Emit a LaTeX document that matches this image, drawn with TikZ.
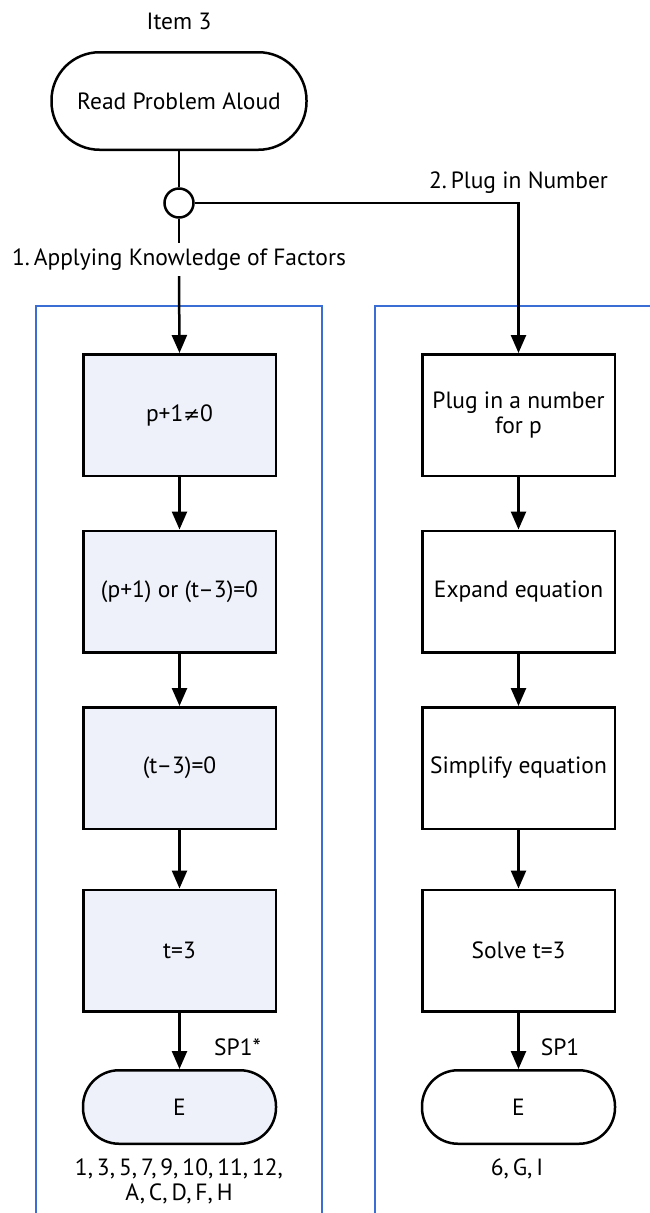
\documentclass[tikz,border=0pt]{standalone}
\usepackage{fontspec}
\setmainfont{PT Sans}
\newfontfamily\symfont{DejaVu Sans}
\usetikzlibrary{arrows.meta}
\definecolor{frameblue}{RGB}{58,110,212}
\definecolor{boxfill}{RGB}{238,241,249}
\begin{document}
\begin{tikzpicture}[x=1pt,y=-1pt,
 every node/.style={font=\fontsize{23.5}{25.5}\selectfont, inner sep=0pt},
 proc/.style={draw, line width=2.5pt, minimum width=192.5pt, minimum height=121.5pt, align=center},
 procf/.style={proc, fill=boxfill},
 term/.style={draw, line width=2.5pt, rounded corners=36pt, minimum width=193pt, minimum height=73.5pt},
 arr/.style={line width=2.5pt, -{Triangle[length=18pt,width=15pt]}},
 ln/.style={line width=2.5pt},
 frm/.style={draw=frameblue, line width=2.7pt},
 lbl/.style={anchor=base}]
\useasboundingbox (0,0) rectangle (649,1213);
% frames
\draw[frm] (36,1220) -- (36,306) -- (322,306) -- (322,1220);
\draw[frm] (375,1220) -- (375,306) -- (660,306);
% top
\node[lbl] (title) at (179,29.3) {Item 3};
\node[draw, line width=2.5pt, rounded corners=48pt, minimum width=255pt, minimum height=97.5pt] (read) at (179,101) {Read Problem Aloud};
\node[draw, circle, line width=2.5pt, minimum size=29pt, fill=white] (circ) at (179,203) {};
\node[lbl, outer ysep=5.5pt] (lab1) at (179,265.7) {1.\,Applying Knowledge of Factors};
\node[lbl] (lab2) at (518.5,188) {2.\,Plug in Number};
% left column
\node[procf] (l1) at (179.5,415) {p+1{\symfont\fontsize{20}{24}\selectfont ≠}0};
\node[procf] (l2) at (179.5,591.5) {(p+1) or (t\textendash3)=0};
\node[procf] (l3) at (179.5,768) {(t\textendash3)=0};
\node[procf] (l4) at (179.5,950.5) {t=3};
\node[term, fill=boxfill] (le) at (179.5,1107) {E};
\node[lbl] (sp1s) at (237.5,1055) {SP1*};
\node[lbl] (lres1) at (179,1175) {1,\,3,\,5,\,7,\,9,\,10,\,11,\,12,};
\node[lbl] (lres2) at (179,1200.7) {A,\,C,\,D,\,F,\,H};
% right column
\node[proc] (r1) at (518.5,415) {Plug in a number\\for p};
\node[proc] (r2) at (518.5,591.5) {Expand equation};
\node[proc] (r3) at (518.5,768) {Simplify equation};
\node[proc] (r4) at (518.5,950.5) {Solve t=3};
\node[term] (re) at (518.5,1107) {E};
\node[lbl] (sp1) at (560,1055) {SP1};
\node[lbl] (rres) at (517,1175) {6,\,G,\,I};
% connectors
\draw[ln] (read.south) -- (circ.north);
\draw[ln] (circ.south) -- (lab1.north);
\draw[arr] (lab1.south) -- (l1.north);
\draw[arr] (circ.east) -| (r1.north);
\draw[arr] (l1.south) -- (l2.north);
\draw[arr] (l2.south) -- (l3.north);
\draw[arr] (l3.south) -- (l4.north);
\draw[arr] (l4.south) -- (le.north);
\draw[arr] (r1.south) -- (r2.north);
\draw[arr] (r2.south) -- (r3.north);
\draw[arr] (r3.south) -- (r4.north);
\draw[arr] (r4.south) -- (re.north);
\end{tikzpicture}
\end{document}
